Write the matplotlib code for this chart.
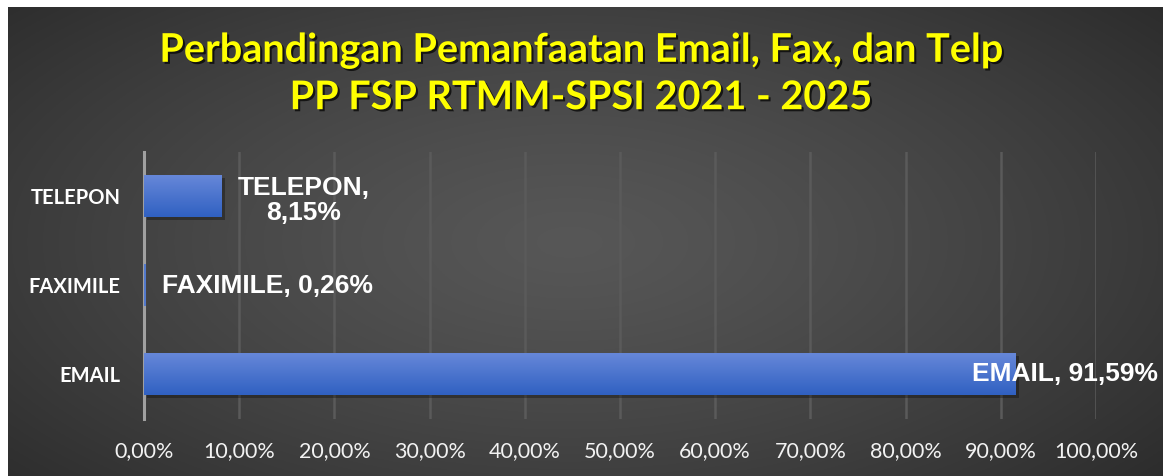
import numpy as np
import matplotlib.pyplot as plt
import matplotlib.patheffects as pe

# data
categories = ['EMAIL', 'FAXIMILE', 'TELEPON']
values = [91.59, 0.26, 8.15]
value_labels = ['EMAIL, 91,59%', 'FAXIMILE, 0,26%', 'TELEPON,\n8,15%']
ticks = np.arange(0, 101, 10)
tick_labels = ['%d,00%%' % t for t in ticks]
title = 'Perbandingan Pemanfaatan Email, Fax, dan Telp\nPP FSP RTMM-SPSI 2021 - 2025'

W, H = 1164, 476
fig = plt.figure(figsize=(W / 100, H / 100), dpi=100)
fig.patch.set_facecolor('white')

# background panel with radial gradient (leaves white strips top/left/right)
bg = fig.add_axes([8 / W, 0, (W - 9) / W, (H - 7) / H])
bg.set_axis_off()
yy, xx = np.mgrid[0:300, 0:700]
cx, cy = 340, 150
d = np.sqrt(((xx - cx) / 520) ** 2 + ((yy - cy) / 260) ** 2)
d = np.clip(d, 0, 1)
lum = 0.34 - 0.19 * d ** 1.3
img = np.dstack([lum, lum, lum])
bg.imshow(img, aspect='auto', extent=[0, 1, 0, 1], origin='upper')
bg.set_xlim(0, 1)
bg.set_ylim(0, 1)

ax = fig.add_axes([144 / W, 1 - 418.5 / H, (1096 - 144) / W, 267 / H])
ax.patch.set_alpha(0)

# shadow bars (skipped for very thin bars)
bh = 0.47
for i, v in enumerate(values):
    if v > 1:
        ax.barh(i - 0.035, v, height=bh, left=0.35, color='black', alpha=0.3, zorder=2)
bars = ax.barh(range(len(values)), values, height=bh, color='#5279cc', zorder=3)

# gradient fill on the bars
grad = np.linspace(0, 1, 50).reshape(-1, 1)
top = np.array([0.40, 0.53, 0.85])
bot = np.array([0.19, 0.38, 0.76])
gimg = top + (bot - top) * grad[..., None]
gimg = np.repeat(gimg, 2, axis=1)
for b in bars:
    if b.get_width() < 1:
        continue
    x0, y0 = b.get_x(), b.get_y()
    ax.imshow(gimg, aspect='auto', extent=[x0, x0 + b.get_width(), y0, y0 + b.get_height()],
              origin='upper', zorder=4, interpolation='bilinear')
ax.set_xlim(0, 100)
ax.set_ylim(-0.5, 2.5)

ax.set_xticks(ticks)
ax.set_xticklabels(tick_labels, fontfamily='Lato', fontsize=15.5, color='#f2f2f2')
ax.set_yticks(range(len(categories)))
ax.set_yticklabels(categories, fontfamily='Lato', fontweight='bold', fontsize=14.5, color='white')
ax.tick_params(length=0)
ax.tick_params(axis='x', pad=16)
ax.tick_params(axis='y', pad=17)
ax.grid(axis='x', color='#5a5a5a', linewidth=1.8, zorder=1)
for s in ['top', 'right', 'bottom']:
    ax.spines[s].set_visible(False)
ax.spines['left'].set_color('#a0a0a0')
ax.spines['left'].set_linewidth(2.2)
ax.spines['left'].set_zorder(2.5)

lab_font = dict(fontfamily='Liberation Sans', fontweight='bold', fontsize=19, color='white', zorder=6)
ax.annotate(value_labels[0], (values[0], 0), xytext=(102, 0), textcoords='offset points',
            ha='right', va='center', **lab_font)
ax.annotate(value_labels[1], (values[1], 1), xytext=(11, -1), textcoords='offset points',
            ha='left', va='center', **lab_font)
ax.annotate(value_labels[2], (values[2], 2), xytext=(59, -3), textcoords='offset points',
            ha='center', va='center', linespacing=1.05, **lab_font)

fig.text(0.5, 1 - 74 / H, title, ha='center', va='center', fontfamily='Lato', fontweight='bold',
         fontsize=28.5, color='#ffff00', linespacing=1.33,
         path_effects=[pe.SimplePatchShadow(offset=(1.5, -1.5), shadow_rgbFace='black', alpha=0.7),
                       pe.Normal()])

fig.savefig('out.png', dpi=100, facecolor=fig.get_facecolor())
